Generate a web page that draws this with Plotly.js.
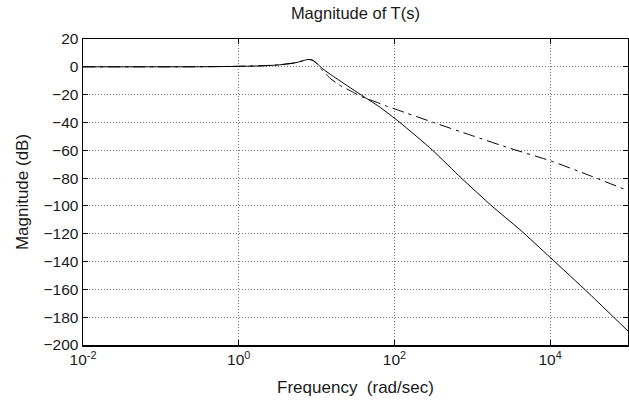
<!DOCTYPE html>
<html>
<head>
<meta charset="utf-8">
<script src="https://cdn.plot.ly/plotly-3.0.1.min.js"></script>
<style>html,body{margin:0;padding:0;background:#fff;}#chart{width:629px;height:406px;}</style>
</head>
<body>
<div id="chart"></div>
<script>
// log10 of frequency (rad/sec) and magnitudes (dB)
var solidLogW = [-2, -1, -0.5, 0, 0.3, 0.5, 0.7, 0.8, 0.85, 0.9, 0.95, 1.0, 1.05, 1.1, 1.2, 1.4, 1.58, 1.8, 2.07, 2.49, 2.86, 3.25, 3.61, 4.0, 4.5, 5.0];
var solidMag  = [0, 0, 0.05, 0.3, 0.7, 1.3, 2.6, 3.9, 4.8, 5.3, 4.8, 2.7, 0, -2.3, -6.3, -13.8, -20.5, -28.5, -40, -60, -80, -100, -117, -137, -163, -190];

var dashLogW = [-2, -1, -0.5, 0, 0.3, 0.5, 0.7, 0.8, 0.85, 0.9, 0.95, 1.0, 1.05, 1.1, 1.17, 1.29, 1.46, 1.58, 1.75, 1.91, 2.04, 2.5, 3.0, 3.48, 4.0, 4.5, 5.0];
var dashMag  = [0, 0, 0.05, 0.4, 0.8, 1.4, 2.7, 4.0, 4.9, 5.3, 4.6, 2.4, -0.8, -4, -8, -13, -18, -21.5, -25, -28.5, -31, -40, -49.5, -58.5, -67.5, -78, -89];

var xTickVals = [0.01, 1, 100, 10000];
var xTickText = ['10<sup>-2</sup>', '10<sup>0</sup>', '10<sup>2</sup>', '10<sup>4</sup>'];
var yTickVals = [20, 0, -20, -40, -60, -80, -100, -120, -140, -160, -180, -200];

function pow10(a){ return a.map(function(v){ return Math.pow(10, v); }); }

var traces = [
  {x: pow10(solidLogW), y: solidMag, type: 'scatter', mode: 'lines',
   line: {color: '#000', width: 1, shape: 'spline', smoothing: 0.6}, hoverinfo: 'none'},
  {x: pow10(dashLogW), y: dashMag, type: 'scatter', mode: 'lines',
   line: {color: '#000', width: 1, dash: '12px,5px,3px,5px', shape: 'spline', smoothing: 0.6}, hoverinfo: 'none'}
];

var fontFam = 'Liberation Sans, Arial, sans-serif';
var txt = '#1a1a1a';
var layout = {
  width: 629, height: 406,
  margin: {l: 83, r: 1, t: 39, b: 61},
  paper_bgcolor: '#fff', plot_bgcolor: '#fff',
  showlegend: false,
  font: {family: fontFam, color: txt, size: 16},
  title: {text: 'Magnitude of T(s)', font: {family: fontFam, size: 16.5, color: txt},
          x: 0.565, xanchor: 'center', y: 0.968, yanchor: 'middle'},
  xaxis: {
    type: 'log', range: [-2, 5],
    tickvals: xTickVals, ticktext: xTickText,
    ticks: 'inside', ticklen: 5, tickcolor: '#000', tickwidth: 1,
    showline: true, linecolor: '#000', linewidth: 1.5, mirror: 'allticks',
    showgrid: true, gridcolor: '#777', gridwidth: 1, griddash: '1px,2px',
    zeroline: false,
    tickfont: {family: fontFam, size: 15.5, color: txt},
    title: {text: 'Frequency\u00a0\u00a0(rad/sec)', font: {family: fontFam, size: 17, color: txt}, standoff: 14}
  },
  yaxis: {
    range: [-200, 20],
    tickvals: yTickVals,
    ticks: 'inside', ticklen: 5, tickcolor: '#000', tickwidth: 1,
    showline: true, linecolor: '#000', linewidth: 1.5, mirror: 'allticks',
    showgrid: true, gridcolor: '#777', gridwidth: 1, griddash: '1px,2px',
    zeroline: false,
    tickfont: {family: fontFam, size: 15.5, color: txt},
    title: {text: 'Magnitude (dB)', font: {family: fontFam, size: 17, color: txt}, standoff: 10}
  }
};

Plotly.newPlot('chart', traces, layout, {staticPlot: true, displayModeBar: false});
</script>
</body>
</html>
